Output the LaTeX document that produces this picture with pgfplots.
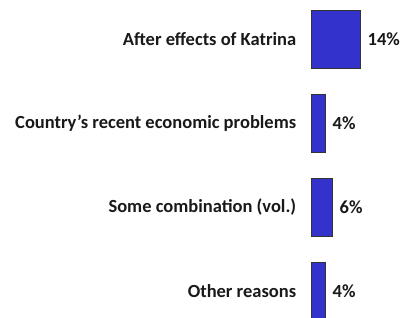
\documentclass[border=0pt]{standalone}
\usepackage{fontspec}
\setmainfont{Carlito}
\usepackage{pgfplots}
\pgfplotsset{compat=1.18}
\definecolor{barblue}{HTML}{3333CC}
\begin{document}
\begin{tikzpicture}
\path[use as bounding box] (0,0) rectangle (404pt,317pt);
\begin{axis}[
  at={(311pt,-16pt)}, anchor=south west,
  scale only axis, width=70pt, height=336pt,
  xmin=0, xmax=20, ymin=-0.5, ymax=3.5,
  xbar, bar width=58pt, bar shift=0pt,
  axis line style={draw=none}, tick style={draw=none},
  xtick=\empty,
  ytick={0,1,2,3},
  yticklabels={Other reasons, Some combination (vol.), Country’s recent economic problems, After effects of Katrina},
  yticklabel style={font=\fontsize{18.5}{21}\selectfont\bfseries, text=black!90, anchor=east, xshift=-7pt},
  nodes near coords={\pgfplotspointmeta\%},
  nodes near coords style={font=\fontsize{18.5}{21}\selectfont\bfseries, text=black!90, anchor=west, xshift=4pt},
  point meta=explicit symbolic,
]
\addplot[fill=barblue, draw=black!80, line width=0.6pt] coordinates {
  (14,3) [14]
  (4,2) [4]
  (6,1) [6]
  (4,0) [4]
};
\end{axis}
\end{tikzpicture}
\end{document}
